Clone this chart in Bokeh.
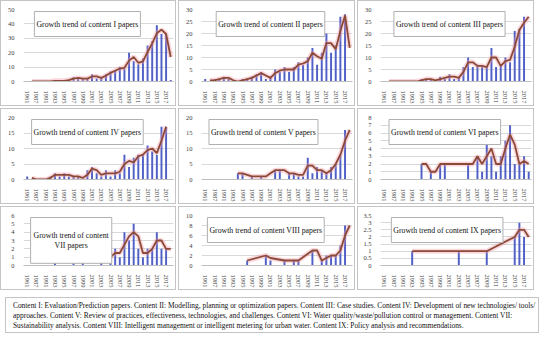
from bokeh.plotting import figure
from bokeh.models import Range1d, FixedTicker, Label, Div, NumeralTickFormatter
from bokeh.layouts import row, column
from bokeh.embed import file_html
from bokeh.resources import INLINE

years = ["1961", "1985", "1987", "1989", "1991", "1992", "1993", "1994", "1995", "1996",
         "1997", "1998", "1999", "2000", "2001", "2002", "2003", "2004", "2005", "2006",
         "2007", "2008", "2009", "2010", "2011", "2012", "2013", "2014", "2015", "2016",
         "2017", "2018"]
shown_years = ["1961", "1987", "1991", "1993", "1995", "1997", "1999", "2001", "2003",
               "2005", "2007", "2009", "2011", "2013", "2015", "2017"]

N = None
bars_I = [0, 0, 0, 0, 0, 0, 1, 0, 1, 1, 3, 2, 2, 2, 5, 2, 3, 5, 7, 8, 10, 9, 20, 14, 12, 16, 25, 28, 39, 33, 33, 1]
line_I = [N, 0, 0, 0, 0, 0, 0.5, 0.5, 0.5, 1, 2, 2.5, 2, 2, 3.5, 3.5, 2.5, 4, 6, 7.5, 9, 9.5, 14.5, 17, 13, 14, 20.5, 26.5, 33.5, 36, 33, 17]

bars_II = [1, 0, 1, 1, 2, 1, 0, 0, 1, 1, 2, 3, 4, 1, 2, 5, 4, 6, 4, 6, 8, 7, 10, 14, 7, 12, 20, 12, 15, 27, 28, 0]
line_II = [N, 0.5, 0.5, 1, 1.5, 1.5, 0.5, 0, 0.5, 1, 1.5, 2.5, 3.5, 2.5, 1.5, 3.5, 4.5, 5, 5, 5, 7, 7.5, 8.5, 12, 10.5, 9.5, 16, 16, 13.5, 21, 27.5, 14]

bars_III = [0, 0, 0, 0, 0, 0, 0, 0, 1, 1, 1, 0, 2, 1, 3, 1, 2, 6, 10, 6, 7, 6, 6, 14, 6, 7, 10, 8, 21, 22, 27, 0]
line_III = [N, 0, 0, 0, 0, 0, 0, 0, 0.5, 1, 1, 0.5, 1, 1.5, 2, 2, 1.5, 4, 8, 8, 6.5, 6.5, 6, 10, 10, 6.5, 8.5, 9, 14.5, 21.5, 24.5, 27]

bars_IV = [1, 0, 0, 0, 0, 1, 2, 1, 2, 1, 1, 1, 0, 3, 4, 2, 1, 3, 1, 3, 2, 8, 4, 7, 8, 8, 11, 9, 8, 17, 17, 0]
line_IV = [N, 0.5, 0, 0, 0, 0.5, 1.5, 1.5, 1.5, 1.5, 1, 1, 0.5, 1.5, 3.5, 3, 1.5, 2, 2, 2, 2.5, 5, 6, 5.5, 7.5, 8, 9.5, 10, 8.5, 12.5, 17, N]

bars_V = [0, 0, 0, 0, 0, 0, 0, 2, 2, 0, 1, 0, 1, 0, 0, 3, 3, 0, 2, 2, 1, 1, 7, 2, 4, 3, 2, 4, 5, 8, 16, 0]
line_V = [N, N, N, N, N, N, N, 2, 2, 1.5, 1, 1, 1, 1, 2, 3, 3, 3, 2, 2, 1.5, 1.5, 4.5, 4.5, 3, 3, 2, 3, 5, 8, 12.5, 16]

bars_VI = [0, 0, 0, 0, 0, 0, 0, 0, 2, 0, 1, 0, 2, 2, 0, 0, 0, 0, 2, 0, 3, 1, 5, 3, 1, 3, 5, 7, 2, 2, 3, 1]
line_VI = [N, N, N, N, N, N, N, N, 2, 2, 1, 1, 2, 2, 2, 2, 2, 2, 2, 2, 3, 2, 3, 4, 2, 2, 4, 5.8, 4.5, 2, 2.4, 2]

bars_VII = [0, 0, 0, 0, 0, 0, 2, 0, 0, 0, 2, 0, 1, 0, 0, 0, 2, 0, 1, 2, 1, 4, 3, 5, 2, 1, 2, 2, 4, 2, 2, 0]
line_VII = [N, N, N, N, N, N, 2, N, N, N, 2, N, 1, N, N, N, 2, N, 1, 1.5, 1.5, 2.5, 3.5, 4, 3.5, 1.5, 1.5, 2, 3, 3, 2, 2]

bars_VIII = [0, 0, 0, 0, 0, 0, 0, 0, 0, 1, 0, 0, 0, 2, 1, 0, 0, 1, 0, 1, 1, 0, 0, 3, 0, 1, 2, 2, 2, 4, 8, 0]
line_VIII = [N, N, N, N, N, N, N, N, N, 1, N, N, N, 2, 1.5, N, N, 1, N, 1, 1, N, N, 3, 3, 1, 1.5, 2, 2, 3, 6, 8]

bars_IX = [0, 0, 0, 0, 0, 0, 1, 0, 0, 0, 0, 0, 0, 0, 0, 0, 1, 0, 0, 0, 0, 0, 1, 0, 0, 0, 0, 0, 2, 3, 2, 0]
line_IX = [N, N, N, N, N, N, 1, N, N, N, N, N, N, N, N, N, 1, N, N, N, N, N, 1, N, N, N, N, N, 2, 2.5, 2.5, 2]

titles = ["Growth trend of content I papers", "Growth trend of content II papers",
          "Growth trend of content III papers", "Growth trend of content IV papers",
          "Growth trend of content V papers", "Growth trend of content VI papers",
          "Growth trend of content\nVII papers", "Growth trend of content VIII papers",
          "Growth trend of content IX papers"]
y_max = [50, 30, 30, 20, 20, 8, 6, 10, 3.5]
y_step = [10, 5, 5, 5, 5, 1, 1, 2, 0.5]

caption_lines = [
    "Content I: Evaluation/Prediction papers. Content II: Modelling, planning or optimization papers. "
    "Content III: Case studies. Content IV: Development of new technologies/ tools/",
    "approaches. Content V: Review of practices, effectiveness, technologies, and challenges. "
    "Content VI: Water quality/waste/pollution control or management. Content VII:",
    "Sustainability analysis. Content VIII: Intelligent management or intelligent metering for urban water. "
    "Content IX: Policy analysis and recommendations.",
]

all_bars = [bars_I, bars_II, bars_III, bars_IV, bars_V, bars_VI, bars_VII, bars_VIII, bars_IX]
all_lines = [line_I, line_II, line_III, line_IV, line_V, line_VI, line_VII, line_VIII, line_IX]

SERIF = "Liberation Serif"
col_w = [176, 177, 177]
row_h = [106, 96, 84]
title_cx = [13, 14, 14, 13, 12.5, 13, 9.5, 13, 13.5]
title_pad = [(2, 8)] * 6 + [(3, 13)] + [(2, 8)] * 2

label_map = {years.index(y): y for y in shown_years}


def make_panel(k):
    w = col_w[k % 3]
    h = row_h[k // 3]
    ymax = y_max[k]
    p = figure(width=w, height=h, output_backend="svg", toolbar_location=None,
               x_range=Range1d(-0.8, 31.6), y_range=Range1d(0, ymax),
               min_border_left=22, min_border_right=4, min_border_top=8,
               min_border_bottom=26)
    p.styles = {"border": "1px solid #c4c4c4", "box-sizing": "border-box"}
    p.outline_line_color = None
    p.background_fill_color = "white"
    p.border_fill_color = "white"
    x = list(range(len(years)))
    p.vbar(x=x, top=all_bars[k], width=0.42, fill_color="#5060c6", line_color=None)
    lx = [i for i, v in enumerate(all_lines[k]) if v is not None]
    ly = [v for v in all_lines[k] if v is not None]
    p.line(lx, ly, line_color="#f29aab", line_width=5, line_alpha=0.4)
    p.line(lx, ly, line_color="#8b4a37", line_width=1.8)

    n_ticks = int(round(ymax / y_step[k]))
    p.yaxis.ticker = FixedTicker(ticks=[i * y_step[k] for i in range(n_ticks + 1)])
    p.yaxis.formatter = NumeralTickFormatter(format="0.[0]")
    p.xaxis.ticker = FixedTicker(ticks=sorted(label_map.keys()))
    p.xaxis.major_label_overrides = label_map
    p.xaxis.major_label_orientation = "vertical"
    for ax in (p.xaxis[0], p.yaxis[0]):
        ax.major_label_text_font = SERIF
        ax.major_label_text_font_size = "6.5px"
        ax.major_label_text_color = "#404040"
        ax.major_tick_line_color = None
        ax.minor_tick_line_color = None
        ax.major_label_standoff = 3
    p.yaxis.axis_line_color = None
    p.xaxis.axis_line_color = "#bfbfbf"
    p.xgrid.grid_line_color = None
    p.ygrid.grid_line_color = "#d9d9d9"

    lab = Label(x=title_cx[k], y=ymax, y_offset=-2, text=titles[k],
                text_align="center", text_baseline="top",
                text_font=SERIF, text_font_size="7.8px", text_color="#111111",
                background_fill_color="white", border_line_color="#b0b0b0",
                border_line_width=1, padding=title_pad[k])
    p.add_layout(lab)
    return p


panels = [make_panel(k) for k in range(9)]
rows = [row(panels[3 * r:3 * r + 3], spacing=2) for r in range(3)]
cap = Div(text="<br>".join(caption_lines), width=534, height=36,
          styles={"border": "1px solid #c4c4c4", "box-sizing": "border-box",
                  "font-family": SERIF, "font-size": "7.4px", "line-height": "10px",
                  "padding": "3px 7px", "color": "#111111", "overflow": "hidden",
                  "white-space": "nowrap"})
layout = column(rows + [cap], spacing=2)

open("out.html", "w").write(file_html(layout, INLINE))
